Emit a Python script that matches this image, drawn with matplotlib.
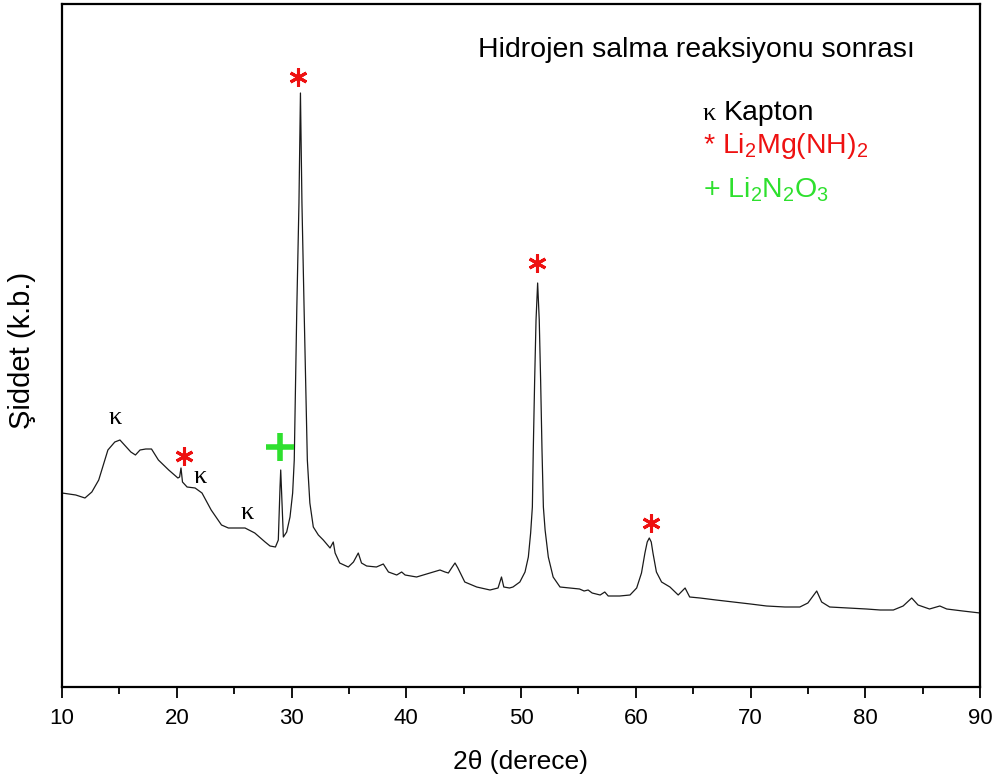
import matplotlib
matplotlib.use("Agg")
import matplotlib.pyplot as plt
from matplotlib.ticker import MultipleLocator

plt.rcParams['font.family'] = ['Liberation Sans', 'DejaVu Sans']
plt.rcParams['mathtext.default'] = 'regular'

# XRD pattern (2theta in degrees, intensity in arbitrary units)
two_theta = [
    10.0, 10.6, 11.2, 12.0, 12.6, 13.2, 13.6, 14.0, 14.6, 15.05, 15.6, 16.0,
    16.4, 16.8, 17.3, 17.8, 18.4, 19.3, 20.1, 20.25, 20.37, 20.5, 20.9, 21.6,
    22.2, 23.0, 23.9, 24.5, 25.95, 26.8, 27.7, 28.13, 28.6, 28.85, 29.0, 29.06,
    29.15, 29.29, 29.58, 29.87, 30.1, 30.24, 30.46, 30.65, 30.78, 30.91, 31.10,
    31.38, 31.6, 31.9, 32.34, 32.77, 33.36, 33.64, 33.8, 34.2, 34.95, 35.4,
    35.82, 36.1, 36.55, 37.4, 38.0, 38.45, 39.17, 39.6, 39.9, 40.9, 42.07,
    42.94, 43.38, 43.67, 43.95, 44.25, 44.5, 45.1, 46.14, 47.3, 48.0, 48.3,
    48.5, 49.0, 49.3, 49.9, 50.35, 50.64, 50.84, 50.99, 51.07, 51.19, 51.31,
    51.45, 51.59, 51.71, 51.83, 51.95, 52.1, 52.38, 52.8, 53.4, 54.27, 55.1,
    55.5, 55.85, 56.2, 56.9, 57.3, 57.6, 58.6, 59.5, 60.08, 60.5, 60.8, 61.0,
    61.18, 61.35, 61.5, 61.8, 62.25, 62.98, 63.7, 64.3, 64.7, 65.6, 67.0, 68.5,
    70.0, 71.4, 73.0, 74.3, 75.0, 75.77, 76.2, 76.9, 78.5, 80.1, 81.3, 82.45,
    83.3, 84.05, 84.6, 85.6, 86.5, 87.1, 88.5, 90.0,
]
intensity = [
    194, 193, 192, 189, 195, 207, 222, 237, 245, 247, 240, 235,
    232, 237, 238, 238, 227, 217, 209, 210, 219, 205, 200, 199,
    194, 177, 162, 159, 159, 154, 145, 141, 140, 147, 200, 217,
    190, 150, 155, 170, 194, 227, 377, 484, 594, 484, 377,
    227, 184, 160, 152, 147, 139, 145, 134, 124, 120, 125,
    134, 124, 121, 120, 123, 115, 112, 115, 112, 110, 114,
    117, 115, 114, 119, 124, 119, 105, 100, 97, 99, 110,
    100, 99, 100, 105, 115, 130, 154, 180, 237, 307, 367,
    404, 367, 307, 237, 180, 157, 130, 110, 100, 99, 98,
    96, 97, 94, 92, 95, 91, 91, 92, 99, 114, 134, 145,
    149, 145, 134, 115, 105, 100, 92, 99, 90, 89, 87, 85,
    83, 81, 80, 80, 84, 96, 85, 80, 79, 78, 77, 77,
    81, 89, 82, 78, 81, 78, 76, 74,
]

# peak labels: (2theta, intensity)
kapton_pos = [(14.62, 269), (22.03, 210), (26.12, 174)]
limgnh_pos = [(20.63, 231), (30.57, 610), (51.39, 424), (61.33, 164)]
lino_pos = [(29.0, 240)]

title = "Hidrojen salma reaksiyonu sonrası"
legend_labels = ["Kapton", "* Li$_2$Mg(NH)$_2$", "+ Li$_2$N$_2$O$_3$"]

red = "#ee1111"
green = "#2ee02e"
serif = ["Liberation Serif", "DejaVu Serif"]

fig = plt.figure(figsize=(9.96, 7.82), dpi=100)
ax = fig.add_axes([62 / 996, 1 - 687 / 782, 918 / 996, 683 / 782])

ax.plot(two_theta, intensity, color="#1a1a1a", lw=0.9)

for x, y in kapton_pos:
    ax.text(x, y, "κ", family=serif, fontsize=19, ha="center", va="center")
for x, y in limgnh_pos:
    ax.plot(x, y, marker=(6, 2, 0), ms=13, mew=2.2, color=red, ls="none")
for x, y in lino_pos:
    ax.plot(x, y, marker="+", ms=20, mew=4, color=green, ls="none")

ax.text(46.25, 630, title, fontsize=20.5, ha="left", va="baseline")
ax.text(65.86, 567, "κ", family=serif, fontsize=19, ha="left", va="baseline")
ax.text(67.69, 567, legend_labels[0], fontsize=20.5, ha="left", va="baseline")
ax.text(65.86, 534, legend_labels[1], fontsize=20.5, color=red, ha="left", va="baseline")
ax.text(65.86, 490, legend_labels[2], fontsize=20.5, color=green, ha="left", va="baseline")

ax.set_xlim(10, 90)
ax.set_ylim(0, 683)
ax.xaxis.set_major_locator(MultipleLocator(10))
ax.xaxis.set_minor_locator(MultipleLocator(5))
ax.set_yticks([])
ax.tick_params(axis="x", which="major", direction="out", length=8, width=1.3,
               pad=7, labelsize=16)
ax.tick_params(axis="x", which="minor", direction="out", length=5, width=1.3)
for sp in ax.spines.values():
    sp.set_linewidth(1.6)

fig.text(520 / 996, 1 - 762 / 782, "2θ (derece)", fontsize=19,
         ha="center", va="center")
fig.text(22 / 996, 1 - 350 / 782, "Şiddet (k.b.)", fontsize=21, rotation=90,
         ha="center", va="center")

fig.savefig("out.png", dpi=100)
